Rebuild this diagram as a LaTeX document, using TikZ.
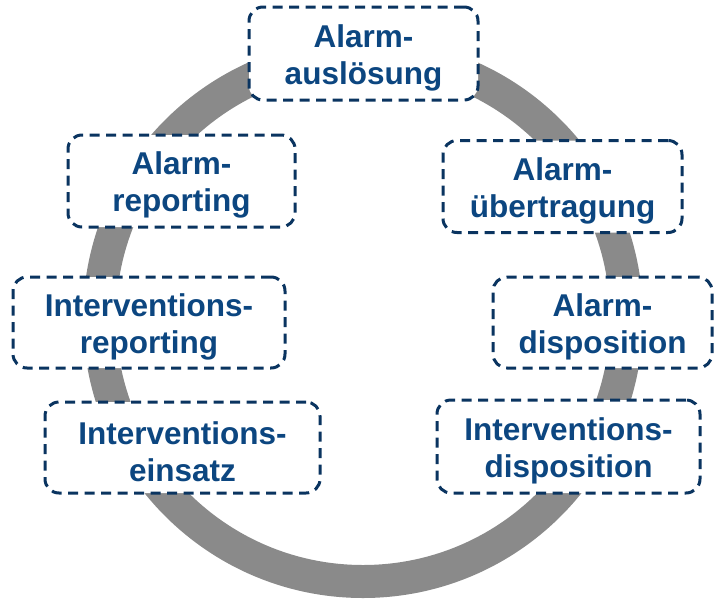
\documentclass[tikz,border=0pt]{standalone}
\usepackage{fontspec}
\setmainfont{Liberation Sans}
\usepackage{tikz}
\definecolor{ringgrey}{RGB}{138,138,138}
\definecolor{boxnavy}{RGB}{10,52,96}
\definecolor{textblue}{RGB}{12,70,128}
\newcommand{\firststrut}{\rule{0pt}{31pt}}

\begin{document}
\begin{tikzpicture}
	[x=1pt,y=-1pt,
	 stage/.style={draw=boxnavy,line width=3pt,dash pattern=on 10pt off 6.5pt,
	   rounded corners=14pt,fill=white,text=textblue,align=center,inner sep=0pt,
	   font=\fontsize{31.5}{37}\selectfont\bfseries}]

	\useasboundingbox (0,0) rectangle (715,600);

	% the cycle behind the boxes
	\draw[ringgrey,line width=33pt] (363,318) circle (263.5);

	\node[stage,minimum width=229pt,minimum height=93pt] (ausl) at (363.5,53.5) {\firststrut Alarm-\\ausl\"osung};
	\node[stage,minimum width=239pt,minimum height=92pt] (uebert) at (562.5,186.5) {\firststrut Alarm-\\\"ubertragung};
	\node[stage,minimum width=219pt,minimum height=91pt] (adisp) at (602.5,322.5) {\firststrut Alarm-\\disposition};
	\node[stage,minimum width=263pt,minimum height=93pt] (idisp) at (568.5,446.5) {\firststrut Interventions-\\disposition};
	\node[stage,minimum width=275pt,minimum height=91pt] (einsatz) at (182.5,447.5) {\firststrut Interventions-\\einsatz};
	\node[stage,minimum width=272pt,minimum height=91pt] (irep) at (149,322.5) {\firststrut Interventions-\\reporting};
	\node[stage,minimum width=227pt,minimum height=92pt] (arep) at (181.5,181) {\firststrut Alarm-\\reporting};

\end{tikzpicture}
\end{document}
